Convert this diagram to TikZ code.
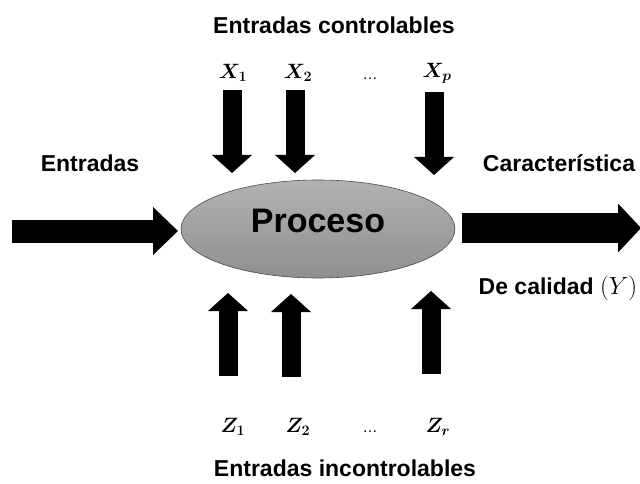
\documentclass[tikz,border=0pt]{standalone}
\usepackage{amsmath,bm}
\usepackage{fontspec}
\setmainfont{Liberation Sans}
\usetikzlibrary{arrows.meta,shapes.geometric}

\tikzset{
  lbl/.style={font=\fontsize{23}{27}\selectfont\bfseries},
  var/.style={font=\fontsize{21}{25}\selectfont},
  dots/.style={font=\fontsize{15}{18}\selectfont},
  blockarrow/.style={line width=19pt,-{Triangle[length=18pt,width=40pt,line width=0pt]}},
}

\begin{document}
\begin{tikzpicture}[x=1pt,y=-1pt]
  \useasboundingbox (0,0) rectangle (640,484);
  % proceso
  \node[ellipse,draw=black!70,line width=0.6pt,minimum width=274pt,minimum height=98pt,
        top color=gray!60,bottom color=gray!88,text depth=16pt,
        font=\fontsize{34}{40}\selectfont\bfseries]
        (proc) at (318,229) {Proceso};

  % entradas controlables
  \node[lbl] (ctrl) at (334,25) {Entradas controlables};
  \node[var] (x1) at (233,73) {$\boldsymbol{X_1}$};
  \node[var] (x2) at (298,73) {$\boldsymbol{X_2}$};
  \node[dots] (xdots) at (370,79) {\ldots};
  \node[var] (xp) at (437,73) {$\boldsymbol{X_p}$};
  \foreach \n/\x/\a/\b in {x1/232/90/173,x2/295/90/173,xp/434/92/175}{
    \coordinate (\n-a) at (\x,\a); \coordinate (\n-b) at (\x,\b);
    \draw[blockarrow] (\n-a) -- (\n-b);
  }

  % entradas incontrolables
  \foreach \n/\x/\a/\b in {z1/228/376/293,z2/291/377/294,zr/431/374/291}{
    \coordinate (\n-a) at (\x,\a); \coordinate (\n-b) at (\x,\b);
    \draw[blockarrow] (\n-a) -- (\n-b);
  }
  \node[var] (z1) at (233,427) {$\boldsymbol{Z_1}$};
  \node[var] (z2) at (298,427) {$\boldsymbol{Z_2}$};
  \node[dots] (zdots) at (370,432) {\ldots};
  \node[var] (zr) at (438,427) {$\boldsymbol{Z_r}$};
  \node[lbl] (inctrl) at (345,468) {Entradas incontrolables};

  % entrada y salida
  \node[lbl] (entr) at (90,163) {Entradas};
  \coordinate (in-a) at (12,231); \coordinate (in-b) at (178,231);
  \draw[line width=23pt,-{Triangle[length=25pt,width=48pt,line width=0pt]}] (in-a) -- (in-b);
  \node[lbl] (car) at (559,163) {Característica};
  \node[lbl] (cal) at (558,288) {De calidad $(Y)$};
  \coordinate (out-a) at (462,228); \coordinate (out-b) at (641,228);
  \draw[line width=30pt,-{Triangle[length=23pt,width=49pt,line width=0pt]}] (out-a) -- (out-b);
\end{tikzpicture}
\end{document}
